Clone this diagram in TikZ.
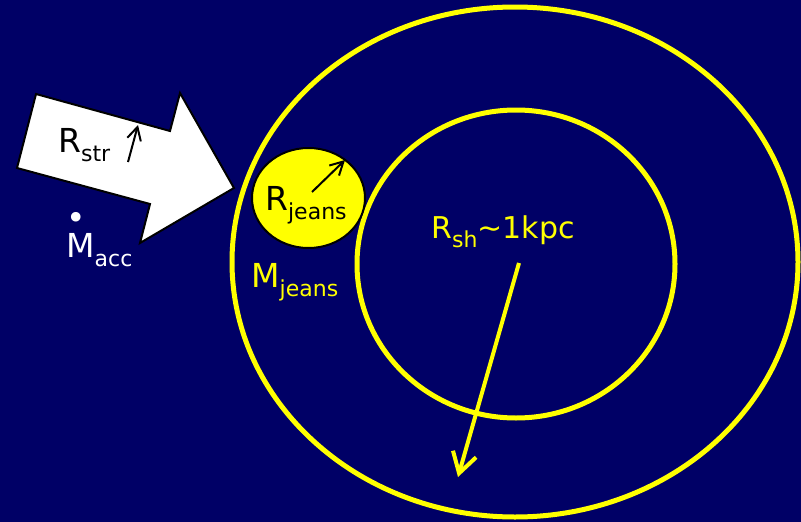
\documentclass[tikz,border=0pt]{standalone}
\usepackage{fontspec}
\setmainfont{DejaVu Sans}
\usetikzlibrary{arrows.meta}
\definecolor{slideblue}{RGB}{0,0,102}
\definecolor{shellyellow}{RGB}{255,255,0}
\newcommand{\lowsub}[1]{\raisebox{-9pt}{\fontsize{22}{22}\selectfont #1}}
\newcommand{\dotM}{\rlap{\raisebox{28pt}{•}}M}

\begin{document}
\begin{tikzpicture}[x=1pt, y=-1pt,
    lbl/.style={inner sep=0pt, anchor=base west, font=\fontsize{33}{33}\selectfont},
    ring/.style={draw=shellyellow, line width=5pt},
    thinarrow/.style={-{Straight Barb[length=13pt,width=14pt]}, line width=2pt, black},
    fatarrow/.style={-{Straight Barb[length=20pt,width=24pt]}, line width=4pt, shellyellow}]
    % Slide background
    \fill[slideblue] (0,0) rectangle (801,522);
    \useasboundingbox (0,0) rectangle (801,522);

    % Shells: outer halo and inner shock radius
    \draw[ring] (515,262) ellipse [x radius=283pt, y radius=255pt];
    \draw[ring] (516,264) ellipse [x radius=159pt, y radius=154pt];

    % Inflowing stream: fat white block arrow
    \draw[fill=white, line width=2pt, line join=miter]
      (36,94) -- (170,131) -- (180,93) -- (234,188) -- (140,243) -- (150,204) -- (17,168) -- cycle;
    \node[lbl, black] (Rstr) at (58,152) {R\lowsub{str}};
    \coordinate (strA) at (128,162);
    \coordinate (strB) at (138,125);
    \draw[thinarrow] (strA) -- (strB);
    \node[lbl, white] (Macc) at (66,257) {\dotM\lowsub{acc}};

    % Jeans clump
    \draw[fill=shellyellow, line width=2pt] (308.5,198) ellipse [x radius=56.5pt, y radius=50pt];
    \node[lbl, black] (Rjeans) at (265,210) {R\lowsub{jeans}};
    \coordinate (jA) at (312,192);
    \coordinate (jB) at (345,160);
    \draw[thinarrow] (jA) -- (jB);
    \node[lbl, shellyellow] (Mjeans) at (251,287) {M\lowsub{jeans}};

    % Shock radius
    \node[lbl, shellyellow, font=\fontsize{30}{30}\selectfont] (Rsh) at (431,238) {R\lowsub{sh}\textasciitilde1kpc};
    \coordinate (shA) at (519,263);
    \coordinate (shB) at (458,477);
    \draw[fatarrow] (shA) -- (shB);
\end{tikzpicture}
\end{document}
